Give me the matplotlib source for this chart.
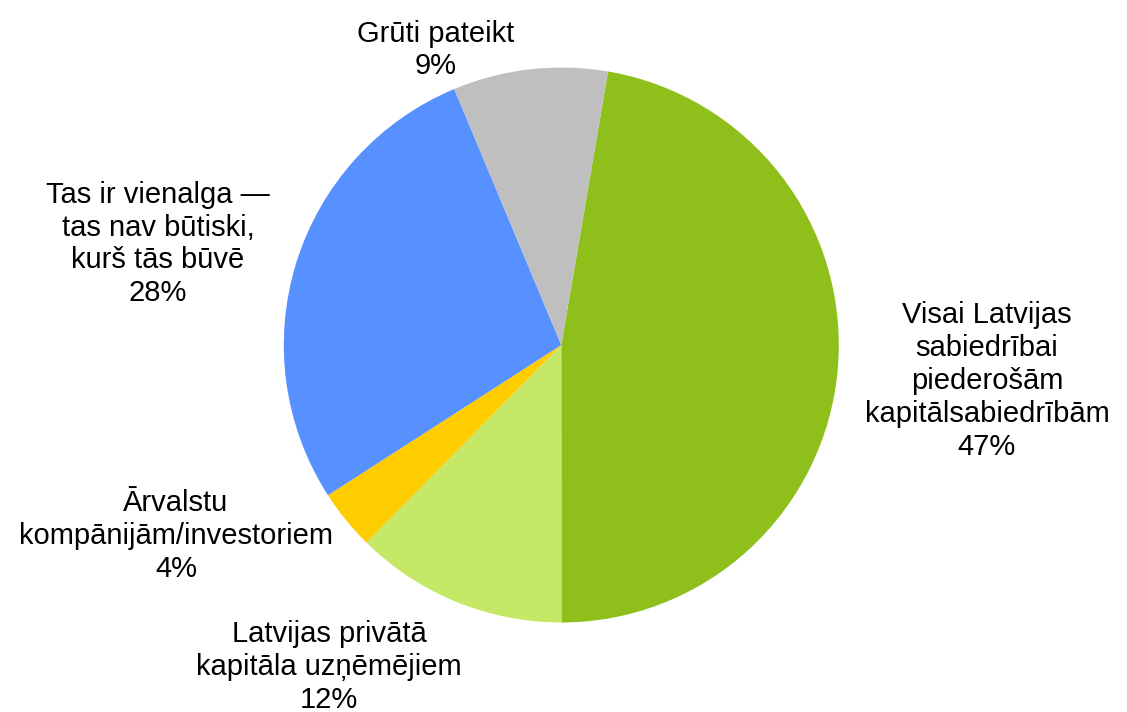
import matplotlib
matplotlib.use("Agg")
import matplotlib.pyplot as plt

labels = [
    "Visai Latvijas\nsabiedrībai\npiederošām\nkapitālsabiedrībām\n47%",
    "Latvijas privātā\nkapitāla uzņēmējiem\n12%",
    "Ārvalstu\nkompānijām/investoriem\n4%",
    "Tas ir vienalga —\ntas nav būtiski,\nkurš tās būvē\n28%",
    "Grūti pateikt\n9%",
]
values = [47.3, 12.4, 3.5, 27.8, 9.0]
colors = ["#8FBF1B", "#C5E866", "#FFCC00", "#5791FF", "#BFBFBF"]

plt.rcParams['font.family'] = ['Liberation Sans', 'DejaVu Sans']

W, H = 1127, 712
fig = plt.figure(figsize=(W / 100, H / 100), dpi=100)
ax = fig.add_axes([0, 0, 1, 1])

cx, cy, R = 561.3, 345.0, 277.5
ax.pie(values, colors=colors, startangle=80.3, counterclock=False,
       radius=1.0, wedgeprops=dict(linewidth=0))

ax.set_xlim(-cx / R, (W - cx) / R)
ax.set_ylim((cy - H) / R, cy / R)
ax.set_aspect('equal', adjustable='box')
ax.axis('off')

# label centres in pixel coordinates (layout only)
label_pos = [(987, 381), (329, 667), (176, 536), (158, 244), (436, 50)]
for txt, (px, py) in zip(labels, label_pos):
    ax.text((px - cx) / R, (cy - py) / R, txt, ha='center', va='center',
            multialignment='center', fontsize=21, linespacing=1.22,
            color='black')

fig.savefig("out.png", dpi=100)
